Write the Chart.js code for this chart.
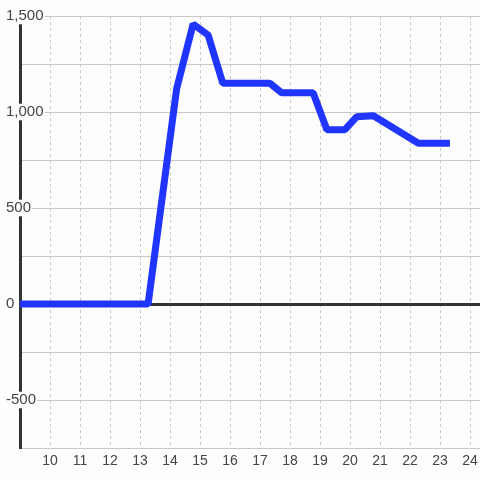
<!DOCTYPE html>
<html>
<head>
<meta charset="utf-8">
<script src="https://cdn.jsdelivr.net/npm/chart.js@4"></script>
<style>
  html, body { margin: 0; padding: 0; background: #fcfdfc; }
  #wrap { width: 480px; height: 480px; position: relative; }
</style>
</head>
<body>
<div id="wrap"><canvas id="c" width="480" height="480"></canvas></div>
<script>
const xValues = [8.92, 13.27, 14.22, 14.77, 15.27, 15.76, 17.33, 17.72, 18.77, 19.23, 19.83, 20.22, 20.78, 22.28, 23.33];
const yValues = [0, 0, 1120, 1458, 1401, 1150, 1150, 1100, 1100, 908, 908, 975, 980, 837, 837];
const xTickValues = [9, 10, 11, 12, 13, 14, 15, 16, 17, 18, 19, 20, 21, 22, 23, 24];
const yLabelValues = [-500, 0, 500, 1000, 1500];

const BG = '#fcfdfc';
const points = xValues.map((x, i) => ({ x: x, y: yValues[i] }));

new Chart(document.getElementById('c'), {
  type: 'line',
  data: {
    datasets: [{
      data: points,
      borderColor: '#2035ff',
      borderWidth: 7,
      borderJoinStyle: 'bevel',
      borderCapStyle: 'butt',
      pointRadius: 0,
      tension: 0,
      fill: false
    }]
  },
  options: {
    responsive: false,
    animation: false,
    devicePixelRatio: 1,
    layout: { padding: { left: 6, top: 16, right: 0, bottom: 0 } },
    plugins: { legend: { display: false }, tooltip: { enabled: false } },
    scales: {
      x: {
        type: 'linear',
        min: 9,
        max: 24.333,
        afterBuildTicks: s => { s.ticks = xTickValues.map(v => ({ value: v })); },
        afterFit: s => { s.height = 32; s.paddingLeft = 0; s.paddingRight = 0; },
        grid: { color: '#c8c8c8', lineWidth: 1, drawTicks: false },
        border: { display: true, color: '#c8c8c8', width: 1, dash: [3, 3] },
        ticks: {
          padding: 5,
          color: '#444',
          font: { family: 'Liberation Sans, Arial, sans-serif', size: 14 },
          autoSkip: false,
          maxRotation: 0,
          callback: v => (v === 9 ? '' : String(v))
        }
      },
      y: {
        type: 'linear',
        min: -750,
        max: 1500,
        afterFit: s => { s.width = 14; s.paddingTop = 0; s.paddingBottom = 0; },
        grid: {
          drawTicks: false,
          color: c => (c.tick && c.tick.value === 0 ? '#333333' : '#c8c8c8'),
          lineWidth: c => (c.tick && c.tick.value === 0 ? 3 : 1)
        },
        border: { display: true, color: '#333333', width: 3 },
        ticks: {
          stepSize: 250,
          mirror: true,
          crossAlign: 'near',
          padding: -14,
          color: '#444',
          font: { family: 'Liberation Sans, Arial, sans-serif', size: 15, lineHeight: 1.1 },
          showLabelBackdrop: true,
          backdropPadding: { top: 0, bottom: 0, left: 0, right: 1 },
          backdropColor: c => (c.tick && yLabelValues.includes(c.tick.value) ? BG : 'rgba(0,0,0,0)'),
          callback: v => (yLabelValues.includes(v) ? v.toLocaleString('en-US') : '')
        }
      }
    }
  },
  plugins: [{
    id: 'bg',
    beforeDraw: chart => {
      const ctx = chart.ctx;
      ctx.save();
      ctx.fillStyle = BG;
      ctx.fillRect(0, 0, chart.width, chart.height);
      ctx.restore();
    }
  }]
});
</script>
</body>
</html>
